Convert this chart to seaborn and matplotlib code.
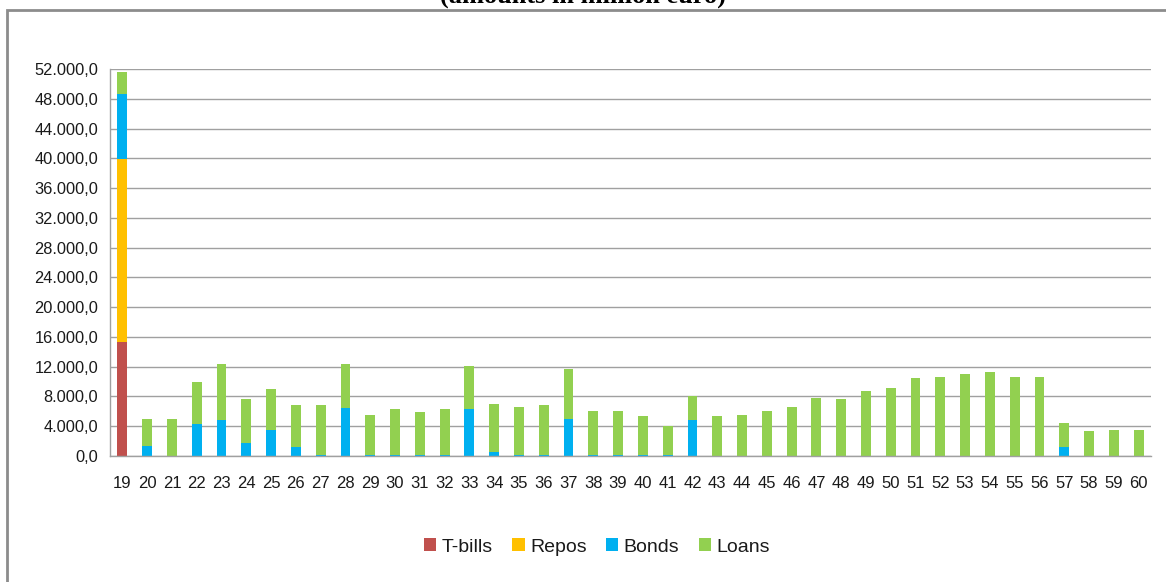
import matplotlib
matplotlib.use("Agg")
import numpy as np
import pandas as pd
import seaborn as sns
import matplotlib.pyplot as plt
from matplotlib.patches import Patch, Rectangle
from matplotlib.ticker import FuncFormatter, FixedLocator

# Maturity years (20xx) and amounts in million euro per instrument
periods = [str(y) for y in range(19, 61)]

tbills = [15300] + [0] * 41
repos = [24600] + [0] * 41
bonds = [8800, 1400, 0, 4300, 4900, 1700, 3500, 1200, 200, 6450,
         200, 200, 200, 200, 6300, 500, 200, 200, 5000, 200,
         200, 200, 200, 4900, 0, 0, 0, 0, 0, 0,
         0, 0, 0, 0, 0, 0, 0, 0, 1200, 0,
         0, 0]
loans = [2900, 3600, 5000, 5600, 7400, 5900, 5500, 5600, 6600, 5950,
         5300, 6100, 5700, 6100, 5800, 6450, 6400, 6600, 6700, 5900,
         5900, 5200, 3800, 3200, 5400, 5550, 6100, 6600, 7800, 7650,
         8700, 9200, 10450, 10600, 11000, 11300, 10600, 10600, 3300, 3300,
         3450, 3450]

series = ["T-bills", "Repos", "Bonds", "Loans"]
colors = {"T-bills": "#C0504D", "Repos": "#FFC000",
          "Bonds": "#00B0F0", "Loans": "#92D050"}

df = pd.DataFrame({"period": periods, "T-bills": tbills, "Repos": repos,
                   "Bonds": bonds, "Loans": loans})
stacked = df[series].cumsum(axis=1)
stacked["period"] = df["period"]

sns.set_style("white")
plt.rcParams["font.family"] = ["Liberation Sans", "DejaVu Sans"]

W, H = 1166, 582
fig = plt.figure(figsize=(W / 100, H / 100), dpi=100)
ax = fig.add_axes([110 / W, 1 - 456 / H, (1151 - 110) / W, (456 - 69) / H])

# Stacked bars: draw cumulative totals from the top layer down
for name in reversed(series):
    sns.barplot(data=stacked, x="period", y=name, order=periods,
                color=colors[name], saturation=1, width=0.4,
                edgecolor="none", linewidth=0, ax=ax)

grid_c = "#a0a0a0"
ax.set_xlim(-0.5, len(periods) - 0.5)
ax.set_ylim(0, 52000)
ax.set_yticks(np.arange(0, 52001, 4000))
ax.yaxis.set_major_formatter(FuncFormatter(
    lambda v, p: f"{v:,.1f}".replace(",", "X").replace(".", ",").replace("X", ".")))
ax.yaxis.grid(True, color=grid_c, linewidth=1.0)
ax.xaxis.grid(False)
ax.set_axisbelow(True)
ax.set_xlabel("")
ax.set_ylabel("")

for s in ["top", "right"]:
    ax.spines[s].set_visible(False)
for s in ["left", "bottom"]:
    ax.spines[s].set_color(grid_c)
    ax.spines[s].set_linewidth(1.0)

text_c = "#1a1a1a"
ax.tick_params(axis="y", length=3.6, width=1, color=grid_c, pad=5.0,
               labelsize=11.8, labelcolor=text_c)
ax.tick_params(axis="x", which="major", length=0, pad=14.5,
               labelsize=12, labelcolor=text_c)
ax.xaxis.set_minor_locator(FixedLocator(np.arange(-0.5, len(periods), 1.0)))
ax.tick_params(axis="x", which="minor", length=5, width=1, color=grid_c,
               direction="out")

# Outer chart frame
fig.add_artist(Rectangle((7 / W, -0.1), 1.2, (H - 9.5) / H + 0.1,
                         transform=fig.transFigure, fill=False,
                         edgecolor="#8c8c8c", linewidth=2))

fig.text(583 / W, 1 - 3 / H, "(amounts in million euro)", ha="center",
         va="baseline", fontsize=19, fontweight="bold",
         family="Liberation Serif", color="black")

handles = [Patch(facecolor=colors[n], edgecolor="none", label=n) for n in series]
fig.legend(handles=handles, loc="center", bbox_to_anchor=(597 / W, 1 - 547 / H),
           ncol=4, frameon=False, fontsize=14, handlelength=0.62,
           handleheight=0.62, handletextpad=0.28, columnspacing=1.0,
           labelcolor=text_c)

fig.savefig("out.png", dpi=100)
